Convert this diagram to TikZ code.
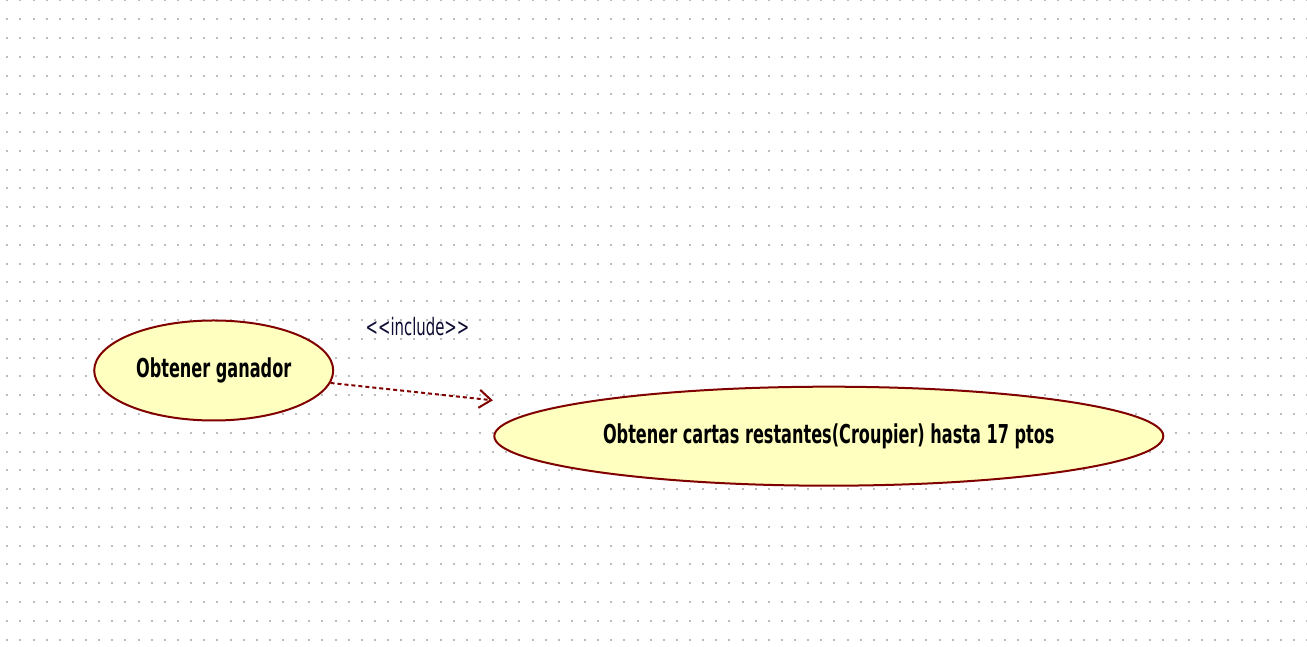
\documentclass[tikz,border=0pt]{standalone}
\usepackage{xcolor}
\usepackage{fontspec}
\usetikzlibrary{shapes.geometric,arrows.meta}
\newfontfamily\ucfont{DejaVu Sans}[FakeStretch=0.62]

\begin{document}
\begin{tikzpicture}[x=1pt,y=1pt,
  usecase/.style={shape=ellipse,inner sep=0pt,line width=2pt,font=\ucfont\fontsize{26}{30}\selectfont\bfseries},
  incledge/.style={line width=2pt,dash pattern=on 4pt off 3pt,-{Straight Barb[length=12pt,width=18pt]}}]
\definecolor{cbg}{rgb}{1.0,1.0,1.0}
\definecolor{cgrid}{rgb}{0.74,0.74,0.74}
\definecolor{cv0}{rgb}{0.5,0.0,0.0}
\definecolor{cfv0}{rgb}{1.0,1.0,0.75}
\definecolor{clv0}{rgb}{0.0,0.0,0.0}
\definecolor{cv1}{rgb}{0.5,0.0,0.0}
\definecolor{cfv1}{rgb}{1.0,1.0,0.75}
\definecolor{clv1}{rgb}{0.0,0.0,0.0}
\definecolor{cv0v1}{rgb}{0.5,0.0,0.0}
\definecolor{clbl}{rgb}{0.05,0.05,0.2}
%
\fill[cbg] (0,0) rectangle (1307,647);
\useasboundingbox (0,0) rectangle (1307,647);
\foreach \r in {0,...,34}
  \draw[cgrid,line width=2pt,dash pattern=on 2pt off 11.13pt] (6.3,646.5-18.8*\r) -- (1307,646.5-18.8*\r);
%
\node[usecase,minimum width=239pt,minimum height=100pt,draw=cv0,fill=cfv0,text=clv0] (ganador) at (213.7,276.5) {Obtener ganador};
\node[usecase,minimum width=669pt,minimum height=99pt,draw=cv1,fill=cfv1,text=clv1] (cartas) at (828.8,210.8) {Obtener cartas restantes(Croupier) hasta 17 ptos};
%
\draw[incledge,color=cv0v1,shorten >=62.7pt] (ganador) -- (cartas);
\node[font=\ucfont\fontsize{24}{28}\selectfont,text=clbl] (inclLbl) at (417.5,320) {<{}<include>{}>};
%
\end{tikzpicture}
\end{document}
